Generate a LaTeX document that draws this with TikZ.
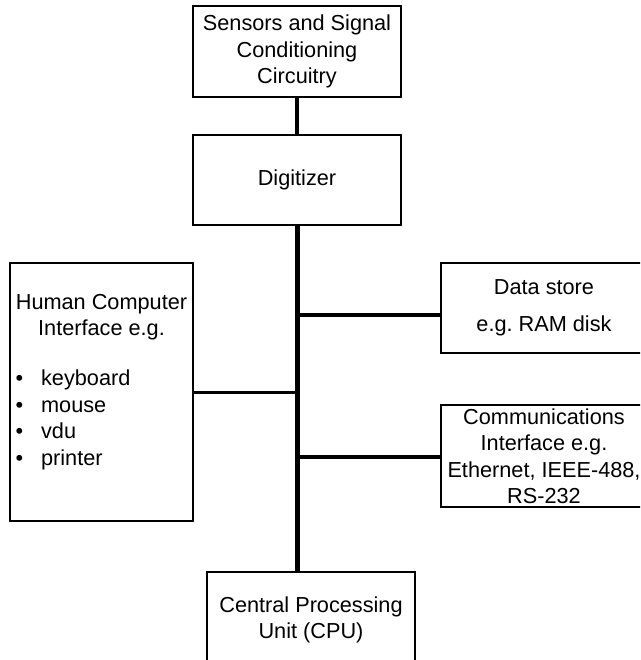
\documentclass[tikz,border=0pt]{standalone}
\usepackage{fontspec}
\setmainfont{Liberation Sans}
\usetikzlibrary{positioning}
\frenchspacing

\begin{document}
\begin{tikzpicture}
      [x=1pt, y=-1pt, every node/.style={align=center},
       blk/.style={draw, line width=1.5pt, inner sep=0pt},
       bus/.style={line width=4.5pt},
       tap/.style={line width=3.5pt},
       font=\fontsize{21.7}{26.5}\selectfont]
      \useasboundingbox (0,0) rectangle (640,660);
      \clip (0,0) rectangle (640,660);

      \node (sens) [blk, minimum width=208pt, minimum height=91pt] at (297, 51.5) {Sensors and Signal\\Conditioning\\Circuitry};
      \node (digi) [blk, minimum width=208pt, minimum height=90pt] at (297, 180) {Digitizer};
      \node (hci) [blk, minimum width=183pt, minimum height=258pt] at (101.5, 392) {};
      \node (hcihead) [] at (101.5, 317) {Human Computer\\Interface e.g.};
      \node (hcilist) [anchor=west, align=left] at (12, 420)
            {\textbullet\hspace{18pt}keyboard\\\textbullet\hspace{18pt}mouse\\\textbullet\hspace{18pt}vdu\\\textbullet\hspace{18pt}printer};
      \node (data) [blk, minimum width=206pt, minimum height=90pt] at (544, 308) {Data store\\[10pt]e.g. RAM disk};
      \node (comms) [blk, minimum width=206pt, minimum height=102pt] at (544, 456) {Communications\\Interface e.g.\\Ethernet, IEEE-488,\\RS-232};
      \node (cpu) [blk, minimum width=208pt, minimum height=96pt] at (311, 620) {Central Processing\\Unit (CPU)};

      % bus
      \coordinate (tapd) at (297, 315);
      \coordinate (tapc) at (297, 457);
      \draw [bus] (sens) -- (digi);
      \draw [bus, line width=5pt] (digi.south) -- (digi.south |- cpu.north);
      \draw [tap] (tapd) -- (tapd -| data.west);
      \draw [tap] (tapc) -- (tapc -| comms.west);
      \draw [tap, line width=3pt] (hci.east) -- (hci.east -| digi.south);
    \end{tikzpicture}
\end{document}
